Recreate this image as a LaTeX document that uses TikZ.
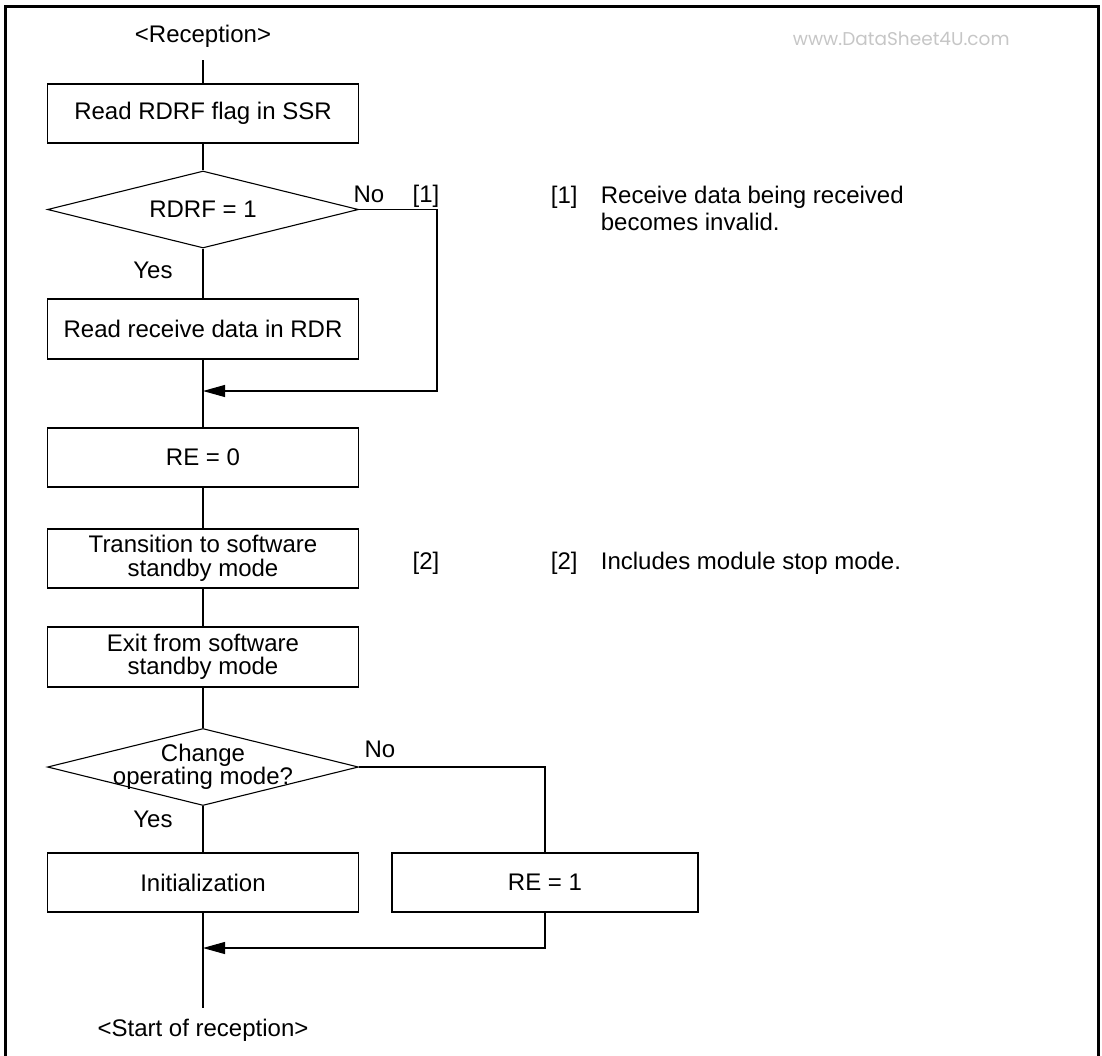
\documentclass[tikz,border=0pt]{standalone}
\usepackage{fontspec}
\setmainfont{Liberation Sans}
\newfontfamily\wmfont{Poppins}
\usetikzlibrary{shapes.geometric,arrows.meta}

\begin{document}
\begin{tikzpicture}[x=1pt,y=-1pt,line width=1.1pt,
		font=\fontsize{24}{23.5}\selectfont,
		box/.style={draw,rectangle,minimum width=311pt,minimum height=59pt,inner sep=0pt,align=center},
		decision/.style={draw,diamond,minimum width=311pt,minimum height=77pt,inner sep=0pt},
		flow/.style={-{Triangle[length=22pt,width=12pt]}},
		tag/.style={anchor=base}]
	\def\mx{203} % main axis
	\useasboundingbox (0,0) rectangle (1102,1055);
	% frame, open at the bottom
	\draw[line width=3pt] (5,1060) -- (5,6) -- (1098,6) -- (1098,1060);
	\node[anchor=base west,text=gray!45,font=\wmfont\fontsize{18.5}{18}\selectfont] (wm) at (789,45) {www.DataSheet4U.com};
	% main column
	\node[tag] (start) at (\mx,42) {<Reception>};
	\node[box] (rdflag) at (\mx,113.5) {Read RDRF flag in SSR};
	\node[decision] (rdrf) at (\mx,209.5) {};
	\node at (rdrf.center) {RDRF = 1};
	\node[box,minimum height=60pt] (rddata) at (\mx,329) {Read receive data in RDR};
	\coordinate (join1) at (\mx,391);
	\coordinate (no1) at (437,391);
	\node[box] (reoff) at (\mx,457.5) {RE = 0};
	\node[box] (tostby) at (\mx,558.5) {Transition to software\\standby mode};
	\node[box,minimum height=60pt] (exstby) at (\mx,657) {Exit from software\\standby mode};
	\node[decision] (chmode) at (\mx,767) {};
	\node[align=center] at (chmode.center) {Change\\operating mode?};
	\node[box] (init) at (\mx,882.5) {Initialization};
	\node[box,minimum width=306pt] (reon) at (545,882.5) {RE = 1};
	\coordinate (join2) at (\mx,948);
	\node[tag] (end) at (\mx,1036) {<Start of reception>};
	% connectors
	\draw (start.south) ++(0,9.5) -- (rdflag.north);
	\draw (rdflag) -- (rdrf);
	\draw (rdrf) -- (rddata);
	\draw (rddata) -- (reoff);
	\draw[flow] (rdrf.east) -| (no1) -- (join1);
	\draw (reoff) -- (tostby);
	\draw (tostby) -- (exstby);
	\draw (exstby) -- (chmode);
	\draw (chmode) -- (init);
	\draw (chmode.east) -| (reon.north);
	\draw[flow] (reon.south) |- (join2);
	\draw (init.south) -- ([yshift=7pt]end.north);
	% labels
	\node[tag] at (369,202) {No};
	\node[tag] at (426,202) {[1]};
	\node[tag] at (153,278) {Yes};
	\node[tag] at (426,569) {[2]};
	\node[tag] at (380,757) {No};
	\node[tag] at (153,827) {Yes};
	% notes
	\node[anchor=base west] (note1) at (547,203) {[1]};
	\node[anchor=base west,align=left,font=\fontsize{24}{27}\selectfont] at (597,230) {Receive data being received\\becomes invalid.};
	\node[anchor=base west] (note2) at (547,569) {[2]};
	\node[anchor=base west] at (597,569) {Includes module stop mode.};
\end{tikzpicture}
\end{document}
